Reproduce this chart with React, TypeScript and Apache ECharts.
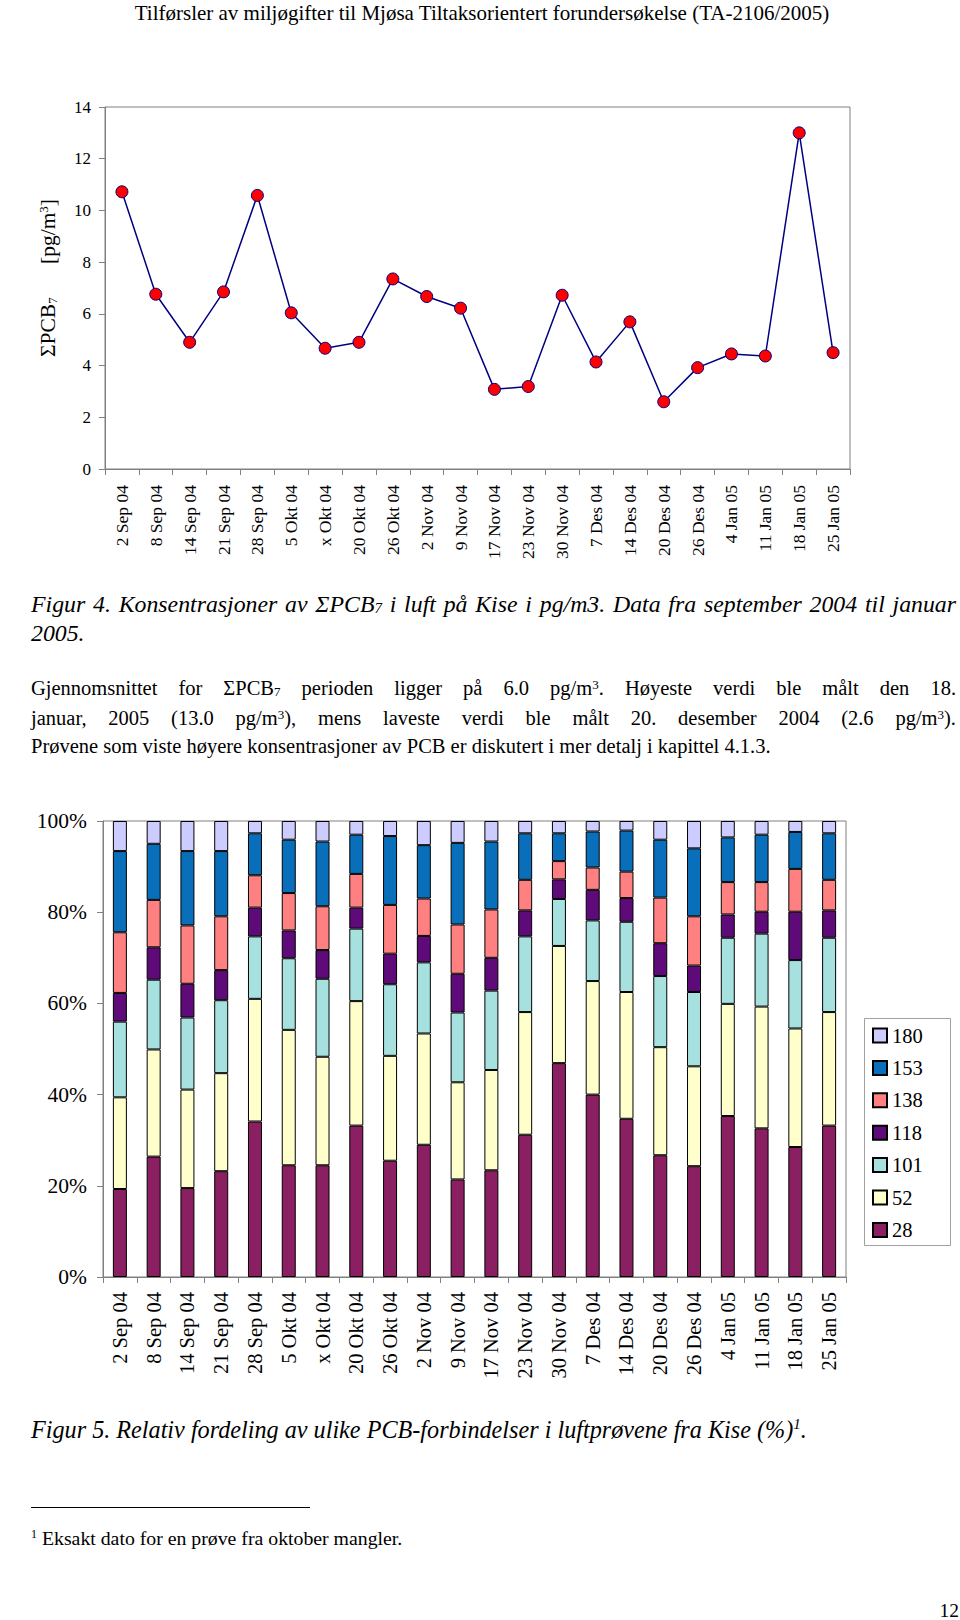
import React, { useEffect, useRef } from 'react';
import * as echarts from 'echarts';

const FONT = "'Liberation Serif', 'Times New Roman', Times, serif";

// ---------- data ----------
const dates = ['2 Sep 04', '8 Sep 04', '14 Sep 04', '21 Sep 04', '28 Sep 04', '5 Okt 04', 'x Okt 04', '20 Okt 04', '26 Okt 04', '2 Nov 04', '9 Nov 04', '17 Nov 04', '23 Nov 04', '30 Nov 04', '7 Des 04', '14 Des 04', '20 Des 04', '26 Des 04', '4 Jan 05', '11 Jan 05', '18 Jan 05', '25 Jan 05'];

// ΣPCB7 [pg/m3]
const sumPCB7 = [10.72, 6.76, 4.9, 6.85, 10.58, 6.04, 4.67, 4.9, 7.35, 6.67, 6.22, 3.08, 3.19, 6.72, 4.14, 5.69, 2.6, 3.92, 4.45, 4.37, 13.0, 4.5];
const lineYTicks = { min: 0, max: 14, interval: 2 };

// relative distribution (%)
const pcb28 = [19.3, 26.4, 19.5, 23.2, 34.1, 24.5, 24.5, 33.2, 25.5, 29.0, 21.4, 23.4, 31.2, 46.9, 40.0, 34.7, 26.7, 24.3, 35.3, 32.6, 28.5, 33.2];
const pcb52 = [20.1, 23.5, 21.6, 21.5, 26.9, 29.7, 23.8, 27.3, 23.0, 24.4, 21.3, 22.0, 26.9, 25.7, 24.9, 27.8, 23.7, 21.9, 24.6, 26.7, 26.0, 24.9];
const pcb101 = [16.6, 15.3, 15.8, 16.0, 13.7, 15.7, 17.1, 15.9, 15.7, 15.6, 15.3, 17.4, 16.6, 10.3, 13.3, 15.4, 15.6, 16.3, 14.5, 16.0, 15.0, 16.3];
const pcb118 = [6.3, 7.1, 7.4, 6.6, 6.3, 6.1, 6.3, 4.6, 6.7, 5.8, 8.5, 7.2, 5.7, 4.3, 6.7, 5.2, 7.2, 5.8, 5.1, 4.8, 10.6, 6.0];
const pcb138 = [13.3, 10.4, 12.8, 11.8, 7.1, 8.2, 9.6, 7.4, 10.7, 8.2, 10.8, 10.6, 6.7, 4.0, 4.9, 5.8, 10.0, 10.8, 7.1, 6.5, 9.4, 6.7];
const pcb153 = [17.8, 12.3, 16.3, 14.3, 9.2, 11.7, 14.2, 8.6, 15.1, 11.7, 17.9, 14.9, 10.2, 6.1, 7.9, 9.0, 12.7, 14.9, 9.8, 10.4, 8.1, 10.2];
const pcb180 = [6.6, 5.0, 6.6, 6.6, 2.7, 4.1, 4.5, 3.0, 3.3, 5.3, 4.8, 4.5, 2.7, 2.7, 2.3, 2.1, 4.1, 6.0, 3.6, 3.0, 2.4, 2.7];
const congenerNames = ['28', '52', '101', '118', '138', '153', '180'];
const congenerColors = ['#8A1F62', '#FFFFCC', '#A6E1E0', '#5E0A78', '#FF8080', '#0A6FBA', '#CCCCFF'];
const pctTicks = { min: 0, max: 100, interval: 20 };

// ---------- texts ----------
const headerText = 'Tilførsler av miljøgifter til Mjøsa Tiltaksorientert forundersøkelse (TA-2106/2005)';
const fig4Caption = ['Figur 4. Konsentrasjoner av ΣPCB_{7} i luft på Kise i pg/m3. Data fra september 2004 til januar', '2005.'];
const paragraph = [
  'Gjennomsnittet for ΣPCB_{7} perioden ligger på 6.0 pg/m^{3}. Høyeste verdi ble målt den 18.',
  'januar, 2005 (13.0 pg/m^{3}), mens laveste verdi ble målt 20. desember 2004 (2.6 pg/m^{3}).',
  'Prøvene som viste høyere konsentrasjoner av PCB er diskutert i mer detalj i kapittel 4.1.3.',
];
const fig5Caption = 'Figur 5. Relativ fordeling av ulike PCB-forbindelser i luftprøvene fra Kise (%)^{1}.';
const footnote = '^{1} Eksakt dato for en prøve fra oktober mangler.';
const pageNumber = '12';

// ---------- text helpers ----------
type Seg = { t: string; k: 'n' | 'sub' | 'sup' };
function segs(s: string): Seg[] {
  const out: Seg[] = [];
  const re = /([_^])\{([^}]*)\}/g;
  let last = 0;
  let m: RegExpExecArray | null;
  while ((m = re.exec(s))) {
    if (m.index > last) out.push({ t: s.slice(last, m.index), k: 'n' });
    out.push({ t: m[2], k: m[1] === '_' ? 'sub' : 'sup' });
    last = re.lastIndex;
  }
  if (last < s.length) out.push({ t: s.slice(last), k: 'n' });
  return out;
}
const toRich = (s: string) => segs(s).map((g) => (g.k === 'n' ? g.t : `{${g.k}|${g.t}}`)).join('');
const smallSize = (size: number) => Math.round(size * 0.62);

let measureCtx: CanvasRenderingContext2D | null = null;
function measureWord(s: string, size: number, italic: boolean) {
  if (!measureCtx) measureCtx = document.createElement('canvas').getContext('2d');
  let w = 0;
  for (const g of segs(s)) {
    const fs = g.k === 'n' ? size : smallSize(size);
    measureCtx!.font = `${italic ? 'italic ' : ''}${fs}px ${FONT}`;
    w += measureCtx!.measureText(g.t).width;
  }
  return w;
}

function textEl(s: string, x: number, y: number, size: number, italic = false, align = 'left') {
  const fs = smallSize(size);
  const fontStyle = italic ? 'italic' : 'normal';
  return {
    type: 'text',
    x,
    y,
    silent: true,
    style: {
      text: toRich(s),
      fontSize: size,
      fontFamily: FONT,
      fontStyle,
      fill: '#000',
      align,
      verticalAlign: 'middle',
      textAlign: align,
      textVerticalAlign: 'middle',
      lineHeight: size,
      rich: {
        sub: { fontSize: fs, fontFamily: FONT, fontStyle, fill: '#000', lineHeight: Math.round(size * 0.35), verticalAlign: 'bottom' },
        sup: { fontSize: fs, fontFamily: FONT, fontStyle, fill: '#000', lineHeight: fs, verticalAlign: 'top' },
      },
    },
  };
}

function justifiedLine(s: string, x0: number, x1: number, y: number, size: number, italic = false) {
  const words = s.split(' ');
  const ws = words.map((w) => measureWord(w, size, italic));
  const total = ws.reduce((a, b) => a + b, 0);
  const gap = (x1 - x0 - total) / (words.length - 1);
  const els: any[] = [];
  let x = x0;
  words.forEach((w, i) => {
    els.push(textEl(w, x, y, size, italic));
    x += ws[i] + gap;
  });
  return els;
}

function buildGraphics() {
  const els: any[] = [];
  els.push(textEl(headerText, 482, 13, 21, false, 'center'));
  // y-axis title of line chart (rotated)
  els.push({
    type: 'group',
    x: 48,
    y: 279,
    rotation: Math.PI / 2,
    children: [textEl('ΣPCB_{7}', -78, 0, 21.5, false, 'left'), textEl('[pg/m^{3}]', 15, 0, 21.5, false, 'left')],
  });
  // figure 4 caption
  els.push(...justifiedLine(fig4Caption[0], 31, 956, 604, 23.8, true));
  els.push(textEl(fig4Caption[1], 31, 633, 23.8, true));
  // paragraph
  els.push(...justifiedLine(paragraph[0], 31, 956, 688, 20.5));
  els.push(...justifiedLine(paragraph[1], 31, 956, 718, 20.5));
  els.push(textEl(paragraph[2], 31, 746, 20.5));
  // figure 5 caption
  els.push(textEl(fig5Caption, 31, 1429, 24.2, true));
  // footnote
  els.push({ type: 'line', silent: true, shape: { x1: 31, y1: 1507.5, x2: 310, y2: 1507.5 }, style: { stroke: '#000', lineWidth: 1 } });
  els.push(textEl(footnote, 31, 1538, 19.8));
  els.push(textEl(pageNumber, 959, 1610, 19.5, false, 'right'));
  // legend frame
  els.push({ type: 'rect', silent: true, shape: { x: 864.5, y: 1018.5, width: 86, height: 227 }, style: { fill: 'none', stroke: '#A0A0A0', lineWidth: 1 } });
  return els;
}

const axisGray = '#808080';

function buildOption() {
  const seriesData = [pcb28, pcb52, pcb101, pcb118, pcb138, pcb153, pcb180];
  const bars = congenerNames.map((name, i) => ({
    name,
    type: 'bar',
    stack: 'pcb',
    xAxisIndex: 1,
    yAxisIndex: 1,
    barWidth: 14,
    data: seriesData[i],
    itemStyle: { color: congenerColors[i], borderColor: '#000', borderWidth: 1 },
    emphasis: { disabled: true },
  }));
  const catAxis = (gridIndex: number, fontSize: number, margin: number) => ({
    type: 'category',
    gridIndex,
    data: dates,
    boundaryGap: true,
    axisLine: { show: true, lineStyle: { color: axisGray, width: 1 } },
    axisTick: { show: true, alignWithLabel: false, interval: 0, length: 6, lineStyle: { color: axisGray } },
    axisLabel: { show: true, interval: 0, rotate: 90, margin, fontSize, fontFamily: FONT, color: '#000' },
    splitLine: { show: false },
  });
  const valAxis = (gridIndex: number, ticks: any, fontSize: number, margin: number, formatter?: string) => ({
    type: 'value',
    gridIndex,
    min: ticks.min,
    max: ticks.max,
    interval: ticks.interval,
    axisLine: { show: true, lineStyle: { color: axisGray, width: 1 } },
    axisTick: { show: true, length: 6, lineStyle: { color: axisGray } },
    axisLabel: { show: true, margin, fontSize, fontFamily: FONT, color: '#000', formatter },
    splitLine: { show: false },
  });
  return {
    animation: false,
    backgroundColor: '#ffffff',
    textStyle: { fontFamily: FONT },
    grid: [
      { left: 105, top: 107, width: 745, height: 362, show: true, borderColor: axisGray, borderWidth: 1, backgroundColor: 'transparent' },
      { left: 103, top: 821, width: 743, height: 456, show: true, borderColor: axisGray, borderWidth: 1, backgroundColor: 'transparent' },
    ],
    xAxis: [catAxis(0, 17.5, 16), catAxis(1, 20.5, 15)],
    yAxis: [valAxis(0, lineYTicks, 17, 14), valAxis(1, pctTicks, 21.5, 16, '{value}%')],
    legend: {
      show: true,
      orient: 'vertical',
      left: 872,
      top: 1025,
      padding: 0,
      itemWidth: 14,
      itemHeight: 14,
      itemGap: 11.4,
      icon: 'rect',
      selectedMode: false,
      data: ['180', '153', '138', '118', '101', '52', '28'],
      textStyle: { fontSize: 20.5, fontFamily: FONT, color: '#000', lineHeight: 20 },
    },
    tooltip: { show: false },
    series: [
      {
        name: 'ΣPCB7',
        type: 'line',
        xAxisIndex: 0,
        yAxisIndex: 0,
        data: sumPCB7,
        symbol: 'circle',
        symbolSize: 12,
        showSymbol: true,
        lineStyle: { color: '#000080', width: 1.5 },
        itemStyle: { color: '#FF0000', borderColor: '#000080', borderWidth: 1 },
        emphasis: { disabled: true },
        z: 3,
      },
      ...bars,
    ],
    graphic: { elements: buildGraphics() },
  };
}

export default function App() {
  const ref = useRef<HTMLDivElement>(null);
  useEffect(() => {
    document.body.style.margin = '0';
    const chart = echarts.init(ref.current!, null, { renderer: 'svg' });
    chart.setOption(buildOption() as any);
    return () => chart.dispose();
  }, []);
  return <div ref={ref} style={{ position: 'absolute', left: 0, top: 0, width: 960, height: 1620, background: '#fff' }} />;
}
